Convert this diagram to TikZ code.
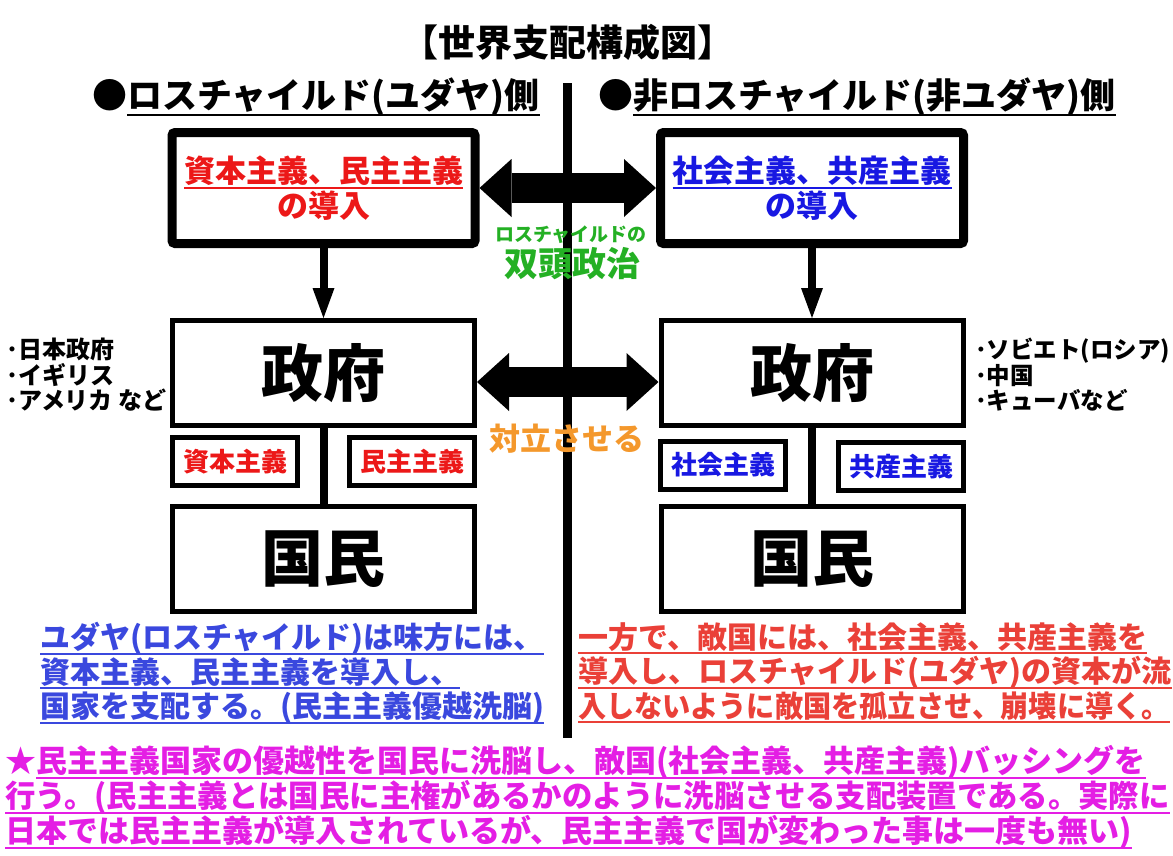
\documentclass[tikz,border=0pt]{standalone}
\usepackage{fontspec}
\setmainfont{Noto Sans CJK JP}
\usepackage{xcolor}
\usepackage{graphicx}
\usepackage{tikz}
\usetikzlibrary{arrows.meta}

\definecolor{boxred}{RGB}{236,24,24}
\definecolor{boxblue}{RGB}{24,24,226}
\definecolor{txtblue}{RGB}{58,72,222}
\definecolor{txtred}{RGB}{234,64,56}
\definecolor{txtpink}{RGB}{228,30,228}
\definecolor{dgreen}{RGB}{36,176,36}
\definecolor{orng}{RGB}{244,152,44}

\newcommand\setfs[2]{\fontsize{#1}{#2}\selectfont}
\newcommand\undl[1]{\leavevmode\setbox0\hbox{#1}\rlap{\rule[-0.2em]{\wd0}{0.065em}}\box0}

\begin{document}
\begin{tikzpicture}[x=1pt,y=-1pt,
  capbox/.style={draw, line width=9pt, rounded corners=3pt, minimum width=303pt,
    minimum height=111pt, inner sep=0pt, align=center, font=\setfs{31}{35}\bfseries},
  govbox/.style={draw, line width=5pt, minimum width=302pt, minimum height=105pt,
    inner sep=0pt, font=\setfs{62}{70}\bfseries},
  ismbox/.style={draw, line width=5pt, minimum width=125pt, minimum height=48pt,
    inner sep=0pt, font=\setfs{26}{30}\bfseries},
  twohead/.style={line width=30pt,
    {Triangle[length=32pt,width=58pt,line width=0pt]}-{Triangle[length=32pt,width=58pt,line width=0pt]}},
  downarr/.style={line width=8pt, -{Triangle[length=30pt,width=22pt,line width=0pt]}},
  linkbar/.style={line width=8pt},
  hdr/.style={inner sep=0pt, font=\setfs{35}{40}\bfseries},
  note/.style={inner sep=0pt, align=left, font=\setfs{24}{25.5}\bfseries},
  para/.style={inner sep=0pt, align=left, font=\setfs{30}{34.5}\bfseries}]
\useasboundingbox (0,0) rectangle (1173,855);
  % divider
  \coordinate (divTop) at (567,83);
  \coordinate (divBot) at (567,738);
  \draw[line width=9pt] (divTop) -- (divBot);
  % titles
  \node[inner sep=0pt, font=\setfs{37}{42}\bfseries] (title) at (568,42) {【世界支配構成図】};
  \node[hdr, anchor=west] (sideL) at (92,97) {●\undl{ロスチャイルド(ユダヤ)側}};
  \node[hdr, anchor=west] (sideR) at (598,97) {●\undl{非ロスチャイルド(非ユダヤ)側}};
  % left column
  \node[capbox, text=boxred] (capL) at (323.5,188) {\undl{資本主義、民主主義}\\の導入};
  \node[govbox] (govL) at (323.5,373) {政府};
  \node[ismbox, text=boxred] (smL1) at (235,461.5) {資本主義};
  \node[ismbox, text=boxred] (smL2) at (412,461.5) {民主主義};
  \node[govbox] (folkL) at (323.5,559) {国民};
  % right column
  \node[capbox, text=boxblue] (capR) at (812,188) {\undl{社会主義、共産主義}\\の導入};
  \node[govbox] (govR) at (812,373) {政府};
  \node[ismbox, text=boxblue] (smR1) at (723,465) {社会主義};
  \node[ismbox, text=boxblue] (smR2) at (901,466.5) {共産主義};
  \node[govbox] (folkR) at (812,559) {国民};
  % connectors
  \draw[downarr] (capL.south) -- (govL.north);
  \draw[downarr] (capR.south) -- (govR.north);
  \draw[linkbar] (govL.south) -- (folkL.north);
  \draw[linkbar] (govR.south) -- (folkR.north);
  \draw[twohead] (capL.east) -- (capR.west);
  \draw[twohead] ([yshift=-9pt]govL.east) -- ([yshift=-9pt]govR.west);
  % middle words
  \node[inner sep=0pt, text=dgreen, font=\setfs{19}{22}\bfseries] (twinA) at (571,235) {ロスチャイルドの};
  \node[inner sep=0pt, text=dgreen, font=\setfs{34}{38}\bfseries] (twinB) at (572,264) {双頭政治};
  \node[inner sep=0pt, text=orng, font=\setfs{31}{35}\bfseries] (rival) at (567,439) {対立させる};
  % country lists
  \node[note, anchor=west] (alliesL) at (6,375) {･日本政府\\･イギリス\\･アメリカ\hspace{0.25em}など};
  \node[note, anchor=west, font=\setfs{23.5}{25.5}\bfseries] (alliesR) at (975,375) {･ソビエト(ロシア)\\･中国\\･キューバなど};
  % bottom texts
  \node[para, text=txtblue, anchor=west] (noteL) at (40,673)
    {\undl{ユダヤ(ロスチャイルド)は味方には、}\\\undl{資本主義、民主主義を導入し、}\\\undl{国家を支配する。(民主主義優越洗脳)}};
  \node[para, text=txtred, anchor=west] (noteR) at (578,673)
    {\undl{一方で、敵国には、社会主義、共産主義を}\\\undl{導入し、ロスチャイルド(ユダヤ)の資本が流}\\\scalebox{0.94}[1]{\undl{入しないように敵国を孤立させ、崩壊に導く。}}};
  \node[para, text=txtpink, anchor=west, font=\setfs{31}{35}\bfseries] (noteB) at (5,797)
    {★\undl{民主主義国家の優越性を国民に洗脳し、敵国(社会主義、共産主義)バッシングを}\\\scalebox{0.98}[1]{\undl{行う。(民主主義とは国民に主権があるかのように洗脳させる支配装置である。実際に}}\\\undl{日本では民主主義が導入されているが、民主主義で国が変わった事は一度も無い)}};
\end{tikzpicture}
\end{document}
